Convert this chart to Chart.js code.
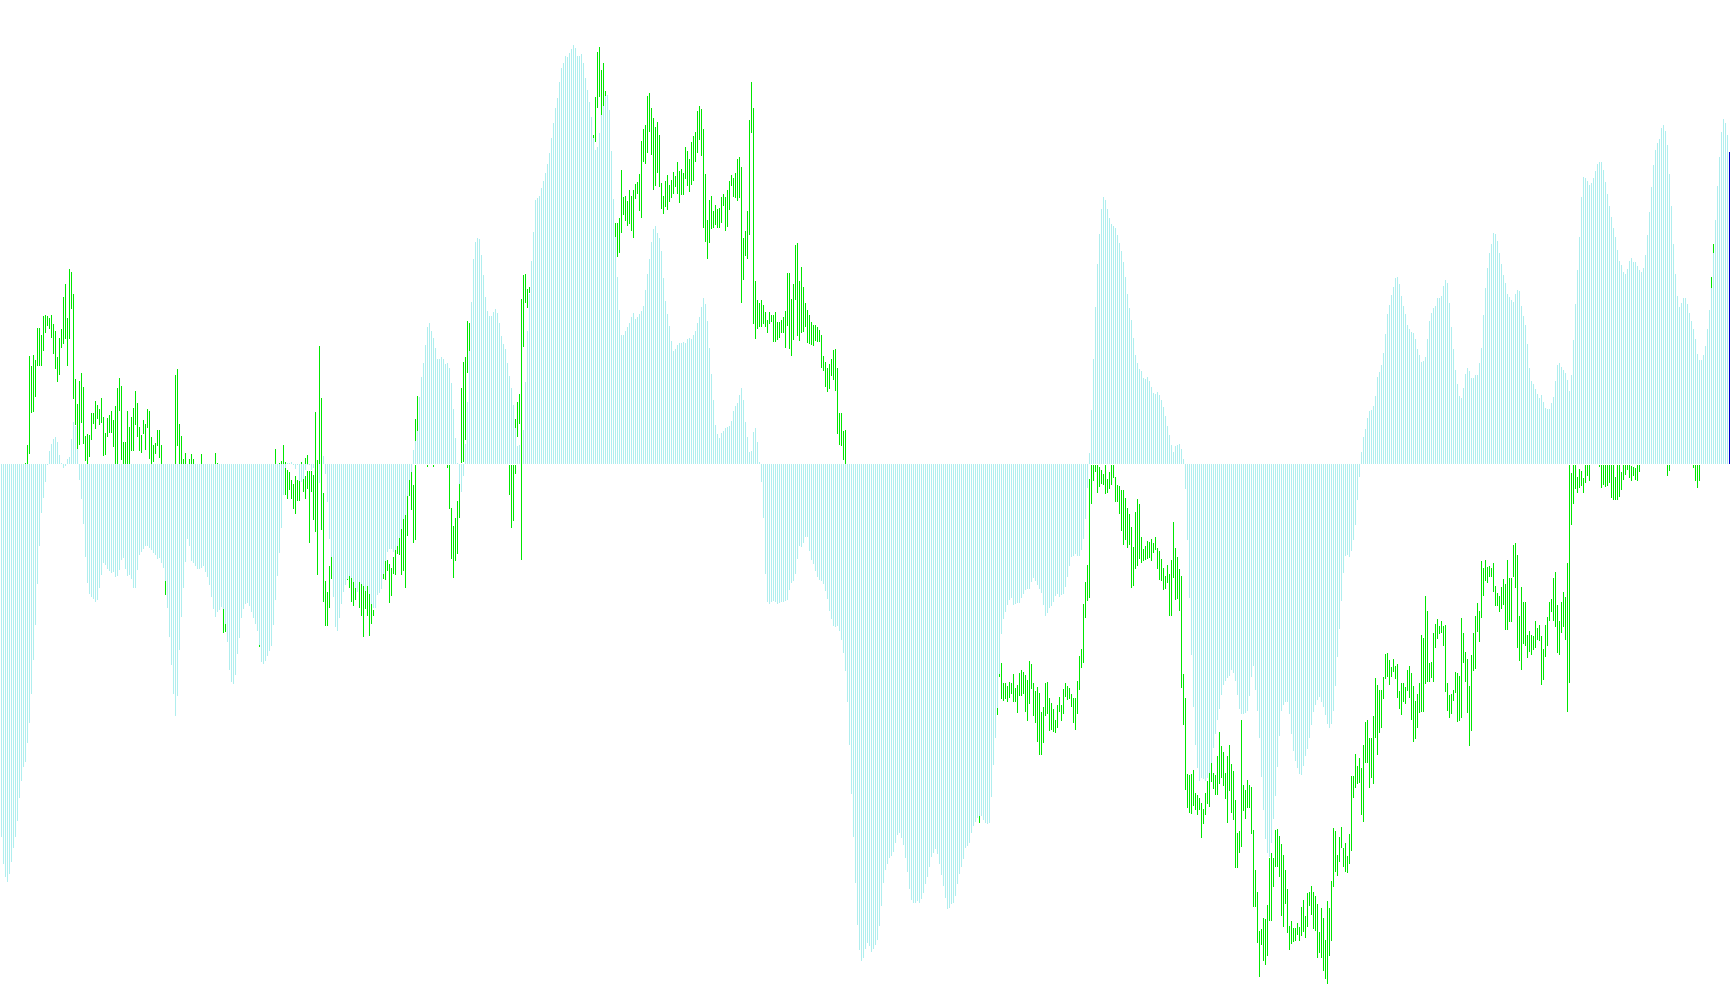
<!DOCTYPE html>
<html>
<head>
<meta charset="utf-8">
<title>Histogram</title>
<script src="https://cdn.jsdelivr.net/npm/chart.js@4"></script>
<style>
    html, body { margin: 0; padding: 0; background: #ffffff; overflow: hidden; }
    canvas { display: block; }
</style>
</head>
<body>
<canvas id="dataChart" width="1730" height="1005"></canvas>
<script>
// valores, um bloco por trecho do eixo
const _ = null;
function gap(n) { return new Array(n).fill(null); }

const histA = [-373,-400,-413,-418,-410,-398,-384,-373,-357,-334,-317,-303,-298,-279,-259,-230,-196,-161,-120,-82,-49,-34,-18,-1,13,20,25,27,22,9,1,-4,-2,5,7,25,42,38,15,-16,-35,-60,-93,-119,-130,-133,-135,-138,-136,-124,-111,-99,-101,-105,-107,-109,-108,-113,-112,-106,-96,-94,-105,-112,-111,-115,-124,-124,-106,-91,-88,-85,-82,-82,-84,-86,-89,-91,-95,-94,-99,-104,-117,-144,-173,-201,-230,-252,-232];
const histB = [-186,-153,-124,-98,-75,-82,-97,-99,-102,-105,-105,-104,-102,-108,-113,-121,-133,-145,-153,-148,-146,-143,-146,-162,-178,-206,-218,-220,-211,-190,-174,-154,-145,-140,-139,-142,-148,-154,-160,-167,-181,-198,-200,-197,-192,-187,-182,-161,-136,-112,-89,-64,-31,-31,1,1,2,-1,-5,-1,-18,-18,-15,-6,-1,-1,-6,-4,0,0,-19,0,8,-10,-38,-75,-95,-133,-163,-167,-154,-140,-128,-121,-115,-112,-114,-118,-124];
const histC = [-128,-120,-120,-122,-127,-122,-130,-140,-144,-144,-131,-129,-125,-110,-97,-88,-85,-85,-88,-86,-82,-74,-65,-55,-51,-36,-16,-8,14,24,33,67,87,101,119,137,141,133,126,116,105,105,107,105,100,101,96,81,55,26,1,-20,-28,-12,20,62,113,162,205,222,226,225,209,189,167,153,148,148,152,155,151,141,128,120,115,101,88,76,59,36,18,19,27,34,82,133,170,203,232];
const histD = [264,266,268,276,283,291,300,311,326,341,356,366,382,396,401,408,407,411,415,419,416,408,408,410,401,386,374,362,347,326,314,317,331,349,358,368,369,354,313,265,227,187,154,129,129,133,137,141,147,151,145,147,150,153,158,174,190,205,222,235,238,231,226,213,186,163,150,138,123,113,115,119,121,121,122,121,125,126,125,129,133,141,147,157,166,160,143,116,90];
const histE = [64,39,30,26,31,33,36,37,38,43,53,58,61,69,76,64,42,27,12,13,32,36,22,2,-18,-54,-110,-138,-140,-138,-137,-138,-140,-139,-138,-138,-137,-136,-126,-119,-117,-110,-95,-82,-83,-79,-73,-73,-87,-96,-100,-107,-113,-116,-117,-120,-127,-135,-147,-155,-162,-163,-162,-167,-176,-189,-207,-238,-281,-330,-373,-419,-461,-486,-497,-494,-485,-479,-482,-488,-485,-481,-476,-462,-442,-419,-406,-400,-394];
const histF = [-392,-388,-379,-371,-369,-374,-381,-394,-408,-425,-436,-439,-439,-437,-439,-435,-429,-420,-413,-403,-393,-389,-385,-390,-400,-411,-422,-434,-445,-444,-440,-439,-432,-420,-410,-403,-395,-384,-382,-379,-369,-362,-358,-354,-352,-352,-356,-359,-360,-359,-333,-301,-274,-244,-210,-170,-155,-148,-141,-136,-134,-141,-140,-139,-139,-134,-130,-126,-125,-125,-118,-114,-117,-121,-125,-129,-141,-152,-149,-144,-142,-138,-132,-130,-133,-131,-130,-123,-113];
const histG = [-102,-93,-92,-90,-92,-92,-86,-75,-55,-24,11,54,105,157,200,230,255,267,264,255,246,240,238,236,229,221,213,202,187,170,156,144,126,109,101,95,93,86,85,87,83,77,71,70,72,69,64,57,48,38,29,19,12,18,19,20,15,5,-25,-76,-134,-191,-243,-281,-304,-317,-314,-315,-317,-314,-309,-299,-284,-270,-256,-245,-231,-221,-217,-214,-212,-206,-209,-217,-231,-245,-250,-250,-249];
const histH = [-247,-232,-213,-202,-226,-247,-274,-313,-346,-375,-389,-393,-379,-355,-332,-303,-272,-247,-241,-238,-238,-250,-270,-287,-297,-304,-310,-311,-302,-292,-285,-274,-261,-248,-241,-236,-233,-238,-243,-251,-260,-264,-260,-247,-222,-193,-165,-137,-109,-92,-91,-93,-87,-76,-61,-36,-13,12,27,35,46,53,54,58,68,87,92,99,111,130,150,159,169,177,186,187,180,168,158,150,139,135,132,131,125,115,109,102,103];
const histI = [107,125,143,151,156,158,166,166,168,178,184,181,161,137,115,94,80,68,66,76,90,96,93,86,86,89,89,101,116,149,176,196,211,220,231,230,223,211,200,189,181,170,167,164,162,170,174,173,158,148,139,120,96,83,80,75,70,66,69,62,56,55,55,61,67,83,99,101,97,94,91,84,73,89,124,160,194,227,267,287,286,283,279,281,286,293,300,302,302];
const histJ = [294,282,270,258,247,236,227,214,203,199,192,190,195,203,206,202,202,198,194,192,196,209,229,252,277,299,314,321,325,336,339,333,319,290,258,220,190,168,157,161,166,166,160,151,143,135,125,110,104,104,109,118,135,154,176,211,244,278,307,332,345,341,329,312];

// faixas verdes: topo e base de cada barra
const hiA = [...gap(12),1,19,108,98,109,104,136,136,129,148,149,148,146,149,140,133,107,126,135,167,180,146,195,192,170,85,60,83,91,77,28,30,29,51,51,63,59,55,66,47,31,46,49,53,44,58,76,86,78,22,22,53,37,47,56,73,61,37,29,44,40,55,53,27,19,21,34,34,19,_,-117,...gap(4),89,95];
const loA = [...gap(12),0,0,10,51,52,67,98,98,98,113,131,138,135,126,110,95,82,89,116,120,125,98,125,155,65,39,15,19,41,20,3,0,7,24,40,35,45,39,41,8,9,27,31,31,17,0,0,53,4,0,0,0,0,13,13,39,27,13,11,30,14,36,5,0,2,10,18,6,0,_,-131,...gap(4),0,18];
const hiB = [40,28,5,11,_,5,10,5,_,_,_,10,...gap(6),11,1,_,_,-145,-160,...gap(16),-181,...gap(7),15,_,1,3,19,-4,-6,-8,-16,-20,-12,-16,-17,2,-15,-12,-7,-7,-7,-11,52,4,118,66,-29,-117,-128,-102,-93,...gap(7),-115,-112,-114,-118,-124];
const loB = [0,0,0,0,_,0,0,0,_,_,_,0,...gap(6),0,0,_,_,-169,-168,...gap(16),-183,...gap(7),0,_,0,0,0,-31,-35,-26,-35,-45,-50,-37,-37,0,-28,-35,-25,-79,-28,-56,-68,-111,0,-66,-138,-162,-162,-144,-115,...gap(7),-116,-124,-138,-142,-136];
const hiC = [_,-118,-120,-122,-127,-122,-130,-140,-146,...gap(4),-110,-97,-96,-100,-104,-93,-86,-82,-74,-65,-55,-51,-32,-16,-8,-21,-1,68,...gap(4),-1,_,_,-1,...gap(6),-1,-1,-44,-62,-54,-37,-20,76,102,107,143,141,...gap(19),-1,-1,-1,45,62,70,165,189,190,175,177,_,_];
const loC = [_,-144,-152,-173,-145,-152,-172,-160,-152,...gap(4),-115,-116,-107,-139,-132,-110,-111,-90,-91,-111,-107,-124,-72,-32,-46,-79,-76,33,...gap(4),-3,_,_,-3,...gap(6),-4,-45,-95,-114,-97,-90,-54,1,2,24,91,113,...gap(19),-31,-64,-57,36,27,40,-96,117,161,156,171,_,_];
const hiD = [...gap(29),329,367,412,417,394,401,373,...gap(4),241,241,246,294,267,268,263,274,268,274,280,282,290,323,335,339,368,371,356,346,337,342,329,281,268,283,289,279,284,292,288,302,293,295,291,317,313,305,322,328,332,353,358,355,335,290,244,264,268];
const loD = [...gap(29),326,322,356,367,349,358,368,...gap(4),227,207,211,231,249,243,238,240,233,226,265,270,253,246,302,300,311,332,309,274,278,291,277,255,250,257,254,262,266,270,277,270,261,269,269,285,278,272,279,283,302,311,324,308,236,222,205,221,235];
const hiE = [253,259,255,256,267,270,267,274,283,289,286,291,305,307,297,226,233,253,344,382,356,183,164,161,164,159,152,144,152,149,149,152,142,142,144,147,153,191,191,165,180,219,221,183,197,177,161,154,149,142,139,139,137,134,129,108,102,96,100,105,114,115,96,51,51,33,34,...gap(22)];
const loE = [236,239,236,236,241,258,233,237,254,278,267,266,263,266,161,184,208,205,229,331,140,125,135,137,137,140,137,131,140,142,122,122,124,126,131,131,116,138,115,108,124,164,128,123,131,132,137,121,120,119,118,123,122,122,96,93,77,72,75,88,84,73,30,19,18,4,0,...gap(22)];
const hiF = [...gap(44),-352,...gap(8),-244,-210,-199,-219,-219,-222,-218,-219,-210,-224,-221,-209,-206,-208,-211,-216,-197,-200,-219,-227,-223,-229,-248,-243,-219,-218,-234,-239,-245,-256,-241,-233,-241,-225,-219,-222];
const loF = [...gap(44),-359,...gap(8),-251,-213,-235,-237,-235,-238,-234,-230,-238,-238,-249,-232,-232,-230,-248,-257,-240,-225,-252,-259,-278,-291,-291,-279,-252,-250,-267,-266,-268,-269,-264,-248,-257,-250,-233,-236];
const hiG = [-224,-230,-234,-234,-217,-192,-185,-140,-118,-101,-15,-1,-1,-1,-1,-3,-6,-10,-1,-15,-8,-1,-1,-13,-21,-22,-26,-26,-34,-44,-50,-63,-83,-48,-35,-40,-73,-85,-82,-77,-78,-75,-79,-73,-84,-87,-95,-104,-112,-101,-110,-96,-58,-84,-93,-105,-112,-210,-234,-310,-311,-310,-306,-329,-331,-334,-339,-345,-329,-317,-309,-299,-309,-311,-292,-268,-282,-288,-309,-292,-281,-300,-307,-336,-369,-367,-256,-321,-326];
const loG = [-235,-243,-259,-266,-250,-226,-204,-199,-154,-137,-134,-40,-17,-8,-29,-23,-20,-21,-30,-29,-25,-21,-14,-38,-38,-50,-67,-81,-76,-84,-81,-124,-122,-105,-102,-95,-99,-97,-96,-95,-94,-97,-89,-86,-105,-116,-117,-126,-125,-119,-152,-152,-114,-136,-135,-147,-224,-261,-326,-344,-349,-350,-342,-346,-351,-346,-374,-360,-351,-340,-343,-318,-325,-331,-331,-320,-314,-322,-335,-359,-327,-349,-356,-404,-404,-389,-383,-347,-355];
const hiH = [-316,-321,-323,-366,-406,-428,-467,-465,-454,-455,-441,-394,-389,-394,-366,-365,-372,-380,-391,-406,-425,-462,-457,-464,-464,-459,-463,-443,-436,-452,-429,-428,-422,-428,-432,-440,-468,-444,-454,-476,-437,-444,-417,-364,-367,-391,-373,-363,-384,-379,-392,-370,-312,-312,-290,-302,-294,-304,-281,-258,-256,-274,-274,-252,-214,-221,-226,-226,-213,-190,-189,-196,-203,-195,-202,-200,-227,-219,-219,-223,-206,-202,-209,-222,-237,-230,-219,-171,-174];
const loH = [-344,-344,-370,-443,-443,-479,-513,-481,-497,-501,-492,-457,-457,-423,-403,-403,-413,-452,-463,-440,-469,-486,-480,-478,-477,-471,-477,-472,-468,-474,-463,-442,-451,-465,-467,-494,-489,-494,-507,-515,-520,-492,-477,-423,-408,-412,-398,-384,-403,-408,-409,-400,-387,-334,-324,-320,-319,-351,-358,-299,-299,-324,-314,-320,-274,-291,-269,-264,-235,-215,-213,-221,-213,-208,-215,-234,-245,-251,-238,-240,-227,-234,-256,-278,-275,-264,-249,-248,-248];
const hiI = [-132,-147,-199,-198,-169,-160,-155,-162,-157,-162,-161,-219,-231,-230,-226,-208,-209,-212,-154,-169,-188,-195,-222,-191,-169,-152,-139,-147,-97,-104,-96,-103,-102,-104,-99,-122,-129,-132,-123,-115,-120,-96,-114,-114,-81,-79,-91,-152,-123,-138,-138,-171,-167,-171,-172,-157,-164,-161,-172,-185,-161,-153,-138,-135,-114,-108,-141,-157,-138,-128,-133,-99,-1,-9,-1,-1,-13,-5,-7,-14,-1,-1,-1,_,_,_,_,-1,-1];
const loI = [-220,-218,-218,-214,-218,-184,-175,-170,-169,-182,-228,-247,-254,-250,-237,-229,-258,-257,-254,-199,-218,-249,-282,-267,-207,-205,-168,-178,-154,-132,-117,-119,-113,-113,-128,-142,-142,-148,-145,-141,-166,-166,-158,-158,-113,-124,-184,-197,-206,-180,-182,-194,-188,-191,-186,-184,-176,-177,-221,-216,-193,-182,-157,-148,-157,-163,-189,-191,-169,-163,-176,-248,-219,-61,-40,-25,-29,-24,-22,-29,-19,-12,-17,_,_,_,_,-3,-24];
const hiJ = [-1,-1,-1,-1,-1,-1,-13,-1,-1,-8,-1,-1,-1,-1,-2,-3,-4,-1,-1,...gap(13),-1,-1,...gap(11),-1,-1,-1,-1,...gap(5),187,220,...gap(8)];
const loJ = [-21,-23,-22,-19,-34,-36,-36,-36,-33,-26,-16,-11,-6,-14,-17,-12,-16,-17,-8,...gap(13),-12,-7,...gap(11),-4,-17,-24,-17,...gap(5),176,211,...gap(8)];

// barras que tem um segundo trecho verde na mesma coluna
const extraIndex = [142, 152, 153, 207, 257];
const extraHi = [2, 6, 9, 45, -1];
const extraLo = [0, 0, 0, 23, -10];

// ultima barra, em azul
const lastIndex = 864;
const lastValue = 312;

const histValues = [...histA, ...histB, ...histC, ...histD, ...histE, ...histF, ...histG, ...histH, ...histI, ...histJ];
const greenHi = [...hiA, ...hiB, ...hiC, ...hiD, ...hiE, ...hiF, ...hiG, ...hiH, ...hiI, ...hiJ];
const greenLo = [...loA, ...loB, ...loC, ...loD, ...loE, ...loF, ...loG, ...loH, ...loI, ...loJ];

const labels = histValues.map((v, i) => i);
const greenData = greenHi.map((v, i) => (v === null ? null : [greenLo[i], v]));
const extraData = labels.map(() => null);
extraIndex.forEach((idx, n) => { extraData[idx] = [extraLo[n], extraHi[n]]; });
const lastData = labels.map(() => null);
lastData[lastIndex] = lastValue;

function barSet(data, color, order) {
    // grouped false ignora barThickness, quem limita a largura e maxBarThickness
    return { data: data, backgroundColor: color, borderWidth: 0, inflateAmount: 0, maxBarThickness: 1, grouped: false, clip: false, order: order };
}

new Chart(document.getElementById('dataChart').getContext('2d'), {
    type: 'bar',
    data: {
        labels: labels,
        datasets: [
            barSet(histValues, '#afeeee', 4),
            barSet(greenData, '#00e600', 3),
            barSet(extraData, '#00e600', 2),
            barSet(lastData, '#0000cd', 1)
        ]
    },
    options: {
        responsive: false,
        animation: false,
        devicePixelRatio: 1,
        // 1.5 e 0.5 deixam o passo em 2px exatos e cada barra cai num pixel inteiro
        layout: { padding: { left: 1.5, right: 0.5, top: 0, bottom: 0 } },
        scales: {
            x: { display: false, offset: false },
            y: { display: false, min: -541, max: 464 }
        },
        plugins: { legend: { display: false }, tooltip: { enabled: false } }
    }
});
</script>
</body>
</html>
